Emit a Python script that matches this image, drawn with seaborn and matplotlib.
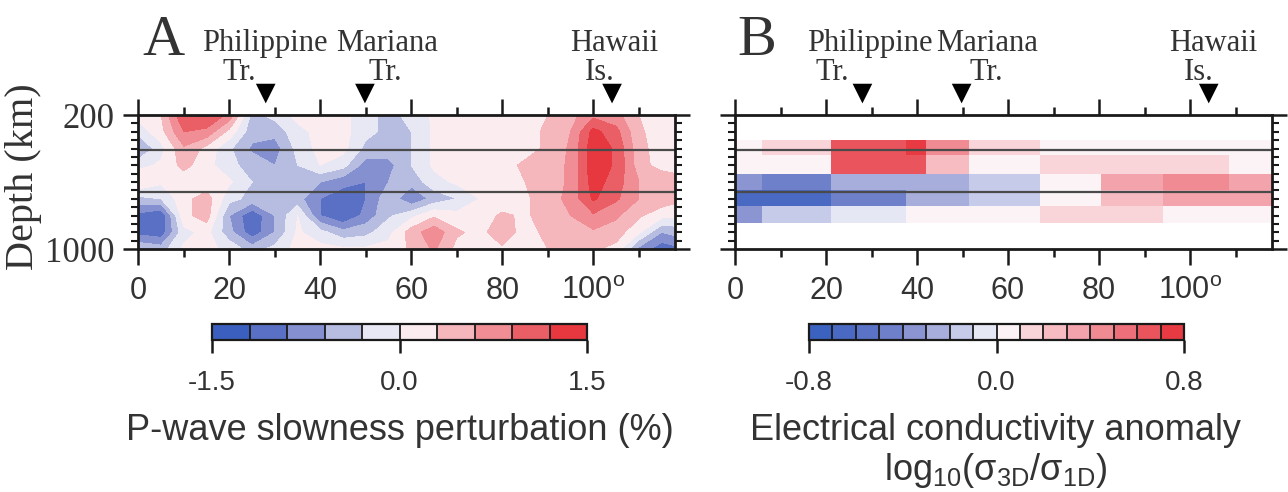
import numpy as np
import matplotlib
matplotlib.use("Agg")
import matplotlib.pyplot as plt
import matplotlib.transforms as mtransforms
from matplotlib.colors import ListedColormap, BoundaryNorm
import seaborn as sns

# ---------------- data ----------------
# Panel A: P-wave slowness perturbation (%) on a grid (distance deg x depth km)
dist_deg = [0, 5, 10, 15, 20, 25, 30, 35, 40, 45, 50, 55, 60, 65, 70, 75, 80,
            85, 90, 95, 100, 105, 110, 115, 118]
depth_km = [200, 300, 400, 500, 600, 700, 800, 900, 1000]
dvp_200 = [0.1, 0.3, 1.2, 1.25, 0.8, -0.4, -0.2, 0.1, 0.1, 0.1, -0.2, -0.4, -0.2, 0.05, 0.1, 0.1, 0.1, 0.15, 0.3, 0.5, 0.8, 0.7, 0.3, 0.1, 0.1]
dvp_300 = [-0.2, 0.2, 0.9, 0.8, 0.2, -0.5, -0.5, -0.1, 0.1, 0.1, -0.2, -0.4, -0.3, 0.05, 0.1, 0.1, 0.1, 0.2, 0.35, 0.6, 1.3, 1.0, 0.35, 0.15, 0.1]
dvp_400 = [-0.65, -0.1, 0.55, 0.2, -0.25, -0.65, -0.75, -0.2, 0.1, 0.1, -0.4, -0.45, -0.3, 0.05, 0.1, 0.1, 0.1, 0.2, 0.35, 0.65, 1.4, 1.15, 0.4, 0.15, 0.1]
dvp_500 = [-0.1, 0.05, 0.4, 0.1, -0.2, -0.45, -0.6, -0.3, 0.0, -0.2, -0.75, -0.7, -0.3, 0.05, 0.1, 0.15, 0.2, 0.35, 0.45, 0.65, 1.4, 1.15, 0.45, 0.15, 0.1]
dvp_600 = [0.3, 0.05, 0.1, 0.1, 0.05, -0.3, -0.4, -0.5, -0.6, -0.8, -0.9, -0.6, -0.5, -0.1, 0.05, 0.1, 0.15, 0.3, 0.45, 0.65, 1.35, 1.05, 0.6, 0.6, 0.5]
dvp_700 = [-0.4, -0.3, 0.2, 0.45, -0.2, -0.4, -0.35, -0.5, -0.9, -1.1, -0.9, -0.4, -0.85, -0.5, -0.3, 0.0, 0.1, 0.25, 0.45, 0.7, 1.25, 0.95, 0.6, 0.5, 0.4]
dvp_800 = [-1.0, -1.2, 0.2, 0.45, -0.6, -1.15, -0.6, 0.0, -0.9, -1.2, -0.8, -0.35, -0.1, 0.25, 0.1, 0.15, 0.35, 0.25, 0.45, 0.6, 0.85, 0.65, 0.35, 0.1, 0.05]
dvp_900 = [-1.0, -1.1, -0.1, 0.1, -0.5, -1.1, -0.6, 0.05, -0.2, -0.5, -0.4, -0.1, 0.45, 0.8, 0.35, 0.2, 0.5, 0.15, 0.4, 0.5, 0.55, 0.45, 0.05, -0.6, -0.5]
dvp_1000 = [-0.35, -0.45, 0.05, 0.1, -0.1, -0.45, -0.2, 0.1, 0.1, 0.05, 0.05, 0.1, 0.35, 0.65, 0.2, 0.1, 0.25, 0.15, 0.3, 0.35, 0.35, 0.2, -0.7, -1.1, -1.0]

# Panel B: electrical conductivity anomaly log10(s3D/s1D), block model
block_x_edges = [0, 6, 21, 37.5, 42, 51.5, 67, 80.5, 94, 108.5, 118]
block_depth_edges = [350, 440, 550, 650, 745, 845]
cond_350_440 = [0.05, 0.15, 0.65, 0.75, 0.45, 0.15, 0.05, 0.05, 0.05, 0.05]
cond_440_550 = [0.05, 0.05, 0.65, 0.65, 0.25, 0.05, 0.15, 0.15, 0.15, 0.05]
cond_550_650 = [-0.35, -0.45, -0.25, -0.25, -0.25, -0.15, 0.05, 0.35, 0.45, 0.35]
cond_650_745 = [-0.65, -0.65, -0.45, -0.25, -0.25, -0.15, 0.05, 0.25, 0.35, 0.35]
cond_745_845 = [-0.35, -0.15, -0.05, 0.05, 0.05, 0.05, 0.15, 0.15, 0.05, 0.05]

# Reference depths (horizontal lines) and surface features
ref_depths = [410, 660]
feature_deg = [28.0, 49.8, 104.1]
x_tick_values = [0, 20, 40, 60, 80, 100]
x_tick_labels = ["0", "20", "40", "60", "80", "100$^{\\mathregular{o}}$"]

# ---------------- style ----------------
sns.set_theme(style="ticks")
plt.rcParams.update({
    "font.family": ["Liberation Sans", "DejaVu Sans"],
    "mathtext.fontset": "custom",
    "mathtext.rm": "Liberation Sans",
    "mathtext.it": "Liberation Sans:italic",
    "mathtext.bf": "Liberation Sans:bold",
    "axes.edgecolor": "#1a1a1a",
    "xtick.color": "#1a1a1a",
    "ytick.color": "#1a1a1a",
    "text.color": "#333333",
    "axes.linewidth": 2.0,
})
SERIF = ["Liberation Serif", "DejaVu Serif"]
TXT = "#333333"

colors_a = ["#3b5fbf", "#5a70c4", "#8490cf", "#b7bce1", "#e8e8f5",
            "#fbedef", "#f5b6bc", "#f08d95", "#ea5e66", "#e6383e"]
colors_b = ["#3b62c0", "#4a69c2", "#5b73c6", "#6f80ca", "#8a95d2", "#a7aedc",
            "#c7cbea", "#e6e7f5", "#fbf3f5", "#f9d5da", "#f6bcc2", "#f3a3ab",
            "#f08a93", "#ed6f79", "#ea545d", "#e83a42"]

levels_a = np.linspace(-1.5, 1.5, 11)
cmap_a = ListedColormap(colors_a)
norm_a = BoundaryNorm(levels_a, 10)
levels_b = np.linspace(-0.8, 0.8, 17)
cmap_b = ListedColormap(colors_b)
norm_b = BoundaryNorm(levels_b, 16)

W, H = 1288, 492
fig = plt.figure(figsize=(W / 100, H / 100), dpi=100)
fig.patch.set_facecolor("white")

ax_w = 537 / W
ax_h = 134 / H
ax_b = 1 - 249 / H
axA = fig.add_axes([138.3 / W, ax_b, ax_w, ax_h])
axB = fig.add_axes([735 / W, ax_b, ax_w, ax_h])

grid = np.array([dvp_200, dvp_300, dvp_400, dvp_500, dvp_600, dvp_700,
                 dvp_800, dvp_900, dvp_1000])
csA = axA.contourf(dist_deg, depth_km, grid, levels=levels_a, cmap=cmap_a,
                   norm=norm_a)

blocks = np.array([cond_350_440, cond_440_550, cond_550_650, cond_650_745,
                   cond_745_845])
pmB = axB.pcolormesh(block_x_edges, block_depth_edges, blocks, cmap=cmap_b,
                     norm=norm_b, shading="flat")


def style_axis(ax, show_ylabels):
    trans = mtransforms.blended_transform_factory(ax.transData, ax.transAxes)
    sns.scatterplot(x=feature_deg, y=[1.16] * len(feature_deg), ax=ax,
                    marker="v", s=200, color="black", edgecolor="none",
                    transform=trans, clip_on=False, legend=False, zorder=5)
    for d in ref_depths:
        ax.axhline(d, color="#4a4a4a", lw=1.6, zorder=4)
    ax.set_xlim(0, 118)
    ax.set_ylim(1000, 200)
    ax.set_facecolor("white")
    ax.set_xlabel("")
    ax.set_ylabel("")
    ax.set_xticks(x_tick_values)
    ax.set_xticklabels(x_tick_labels)
    ax.set_xticks(np.arange(10, 118, 20), minor=True)
    ax.set_yticks([200, 1000])
    ax.set_yticks(np.arange(250, 1000, 50), minor=True)
    ax.tick_params(axis="x", which="major", direction="out", length=11.5,
                   width=1.8, top=True, bottom=True, labelsize=22, pad=8,
                   labelcolor=TXT)
    ax.tick_params(axis="x", which="minor", direction="out", length=5.5,
                   width=1.8, top=True, bottom=True)
    ax.tick_params(axis="y", which="major", direction="out", length=11,
                   width=1.8, left=True, right=True, labelleft=show_ylabels,
                   labelsize=25, pad=6, labelcolor=TXT)
    ax.tick_params(axis="y", which="minor", direction="out", length=5,
                   width=1.5, left=True, right=True)
    if show_ylabels:
        for lab in ax.get_yticklabels():
            lab.set_fontfamily(SERIF)
    for sp in ax.spines.values():
        sp.set_visible(True)
        sp.set_linewidth(2.0)
        sp.set_zorder(6)


style_axis(axA, True)
style_axis(axB, False)

# annotations above panels: (panel, text, x in degrees, baseline px from top)
annots = [
    (axA, "Philippine", 27.9, 51), (axA, "Tr.", 22.2, 80),
    (axA, "Mariana", 54.7, 51), (axA, "Tr.", 54.3, 80),
    (axA, "Hawaii", 104.6, 51), (axA, "Is.", 101.5, 80),
    (axB, "Philippine", 29.7, 51), (axB, "Tr.", 21.3, 80),
    (axB, "Mariana", 55.4, 51), (axB, "Tr.", 55.2, 80),
    (axB, "Hawaii", 105.0, 51), (axB, "Is.", 101.8, 80),
]
for ax, s, xd, ypx in annots:
    tr = mtransforms.blended_transform_factory(ax.transData, fig.transFigure)
    ax.text(xd, 1 - ypx / H, s, transform=tr, ha="center", va="baseline",
            fontsize=22, fontfamily=SERIF, color=TXT, clip_on=False)

fig.text(142 / W, 1 - 55 / H, "A", ha="left", va="baseline", fontsize=42,
         fontfamily=SERIF, color=TXT)
fig.text(737 / W, 1 - 55 / H, "B", ha="left", va="baseline", fontsize=42,
         fontfamily=SERIF, color=TXT)
fig.text(24 / W, 1 - 177 / H, "Depth (km)", rotation=90, ha="center",
         va="center", fontsize=29, fontfamily=SERIF, color=TXT)

# colorbars
cb_w = 375 / W
cb_h = 16 / H
cb_b = 1 - 340 / H
caxA = fig.add_axes([212 / W, cb_b, cb_w, cb_h])
caxB = fig.add_axes([809 / W, cb_b, cb_w, cb_h])

for cax, mappable, tks, tlabs in [
        (caxA, csA, [-1.5, 0.0, 1.5], ["-1.5", "0.0", "1.5"]),
        (caxB, pmB, [-0.8, 0.0, 0.8], ["-0.8", "0.0", "0.8"])]:
    cb = fig.colorbar(mappable, cax=cax, orientation="horizontal",
                      drawedges=True, ticks=tks)
    cb.set_ticklabels(tlabs)
    cb.minorticks_off()
    cb.outline.set_linewidth(1.6)
    cb.outline.set_edgecolor("#1a1a1a")
    cb.dividers.set_color("#1a1a1a")
    cb.dividers.set_linewidth(1.3)
    cax.tick_params(axis="x", direction="out", length=9.5, width=1.8,
                    labelsize=20, pad=12, labelcolor=TXT)

fig.text(399.5 / W, 1 - 430 / H, "P-wave slowness perturbation (%)",
         ha="center", va="center", fontsize=26, color=TXT)
fig.text(996 / W, 1 - 430 / H, "Electrical conductivity anomaly",
         ha="center", va="center", fontsize=26, color=TXT)
fig.text(996 / W, 1 - 470 / H,
         "log$_{\\mathregular{10}}$(\u03c3$_{\\mathregular{3D}}$/\u03c3$_{\\mathregular{1D}}$)",
         ha="center", va="center", fontsize=26, color=TXT)

fig.savefig("out.png", dpi=100, facecolor="white")
